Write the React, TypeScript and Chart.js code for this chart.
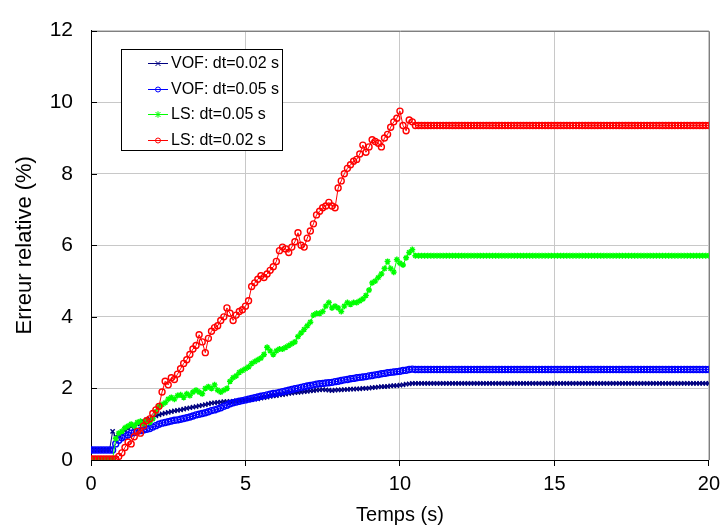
import React, { useEffect, useRef } from "react";
import { Chart, registerables } from "chart.js";

Chart.register(...registerables);

const temps = [
  0, 0.1, 0.2, 0.3, 0.4, 0.5, 0.6, 0.7, 0.8, 0.9,
  1, 1.1, 1.2, 1.3, 1.4, 1.5, 1.6, 1.7, 1.8, 1.9,
  2, 2.1, 2.2, 2.3, 2.4, 2.5, 2.6, 2.7, 2.8, 2.9,
  3, 3.1, 3.2, 3.3, 3.4, 3.5, 3.6, 3.7, 3.8, 3.9,
  4, 4.1, 4.2, 4.3, 4.4, 4.5, 4.6, 4.7, 4.8, 4.9,
  5, 5.1, 5.2, 5.3, 5.4, 5.5, 5.6, 5.7, 5.8, 5.9,
  6, 6.1, 6.2, 6.3, 6.4, 6.5, 6.6, 6.7, 6.8, 6.9,
  7, 7.1, 7.2, 7.3, 7.4, 7.5, 7.6, 7.7, 7.8, 7.9,
  8, 8.1, 8.2, 8.3, 8.4, 8.5, 8.6, 8.7, 8.8, 8.9,
  9, 9.1, 9.2, 9.3, 9.4, 9.5, 9.6, 9.7, 9.8, 9.9,
  10, 10.1, 10.2, 10.3, 10.4, 10.5, 10.6, 10.7, 10.8, 10.9,
  11, 11.1, 11.2, 11.3, 11.4, 11.5, 11.6, 11.7, 11.8, 11.9,
  12, 12.1, 12.2, 12.3, 12.4, 12.5, 12.6, 12.7, 12.8, 12.9,
  13, 13.1, 13.2, 13.3, 13.4, 13.5, 13.6, 13.7, 13.8, 13.9,
  14, 14.1, 14.2, 14.3, 14.4, 14.5, 14.6, 14.7, 14.8, 14.9,
  15, 15.1, 15.2, 15.3, 15.4, 15.5, 15.6, 15.7, 15.8, 15.9,
  16, 16.1, 16.2, 16.3, 16.4, 16.5, 16.6, 16.7, 16.8, 16.9,
  17, 17.1, 17.2, 17.3, 17.4, 17.5, 17.6, 17.7, 17.8, 17.9,
  18, 18.1, 18.2, 18.3, 18.4, 18.5, 18.6, 18.7, 18.8, 18.9,
  19, 19.1, 19.2, 19.3, 19.4, 19.5, 19.6, 19.7, 19.8, 19.9,
  20,
];

const vof002 = [
  0.28, 0.28, 0.28, 0.28, 0.28, 0.28, 0.28, 0.80, 0.65, 0.70,
  0.75, 0.82, 0.88, 0.93, 0.97, 1.00, 1.04, 1.08, 1.12, 1.15,
  1.20, 1.23, 1.26, 1.29, 1.31, 1.33, 1.35, 1.37, 1.39, 1.40,
  1.42, 1.44, 1.46, 1.48, 1.49, 1.51, 1.53, 1.55, 1.57, 1.59,
  1.60, 1.61, 1.62, 1.63, 1.63, 1.64, 1.64, 1.65, 1.66, 1.66,
  1.67, 1.68, 1.69, 1.70, 1.71, 1.73, 1.74, 1.76, 1.78, 1.79,
  1.80, 1.82, 1.83, 1.84, 1.86, 1.87, 1.88, 1.89, 1.90, 1.91,
  1.92, 1.93, 1.94, 1.95, 1.96, 1.97, 1.96, 1.95, 1.94, 1.95,
  1.96, 1.96, 1.97, 1.97, 1.98, 1.98, 1.99, 1.99, 2.00, 2.00,
  2.01, 2.02, 2.03, 2.04, 2.05, 2.05, 2.06, 2.07, 2.08, 2.08,
  2.09, 2.10, 2.12, 2.13, 2.14, 2.14, 2.14, 2.14, 2.14, 2.14,
  2.14, 2.14, 2.14, 2.14, 2.14, 2.14, 2.14, 2.14, 2.14, 2.14,
  2.14, 2.14, 2.14, 2.14, 2.14, 2.14, 2.14, 2.14, 2.14, 2.14,
  2.14, 2.14, 2.14, 2.14, 2.14, 2.14, 2.14, 2.14, 2.14, 2.14,
  2.14, 2.14, 2.14, 2.14, 2.14, 2.14, 2.14, 2.14, 2.14, 2.14,
  2.14, 2.14, 2.14, 2.14, 2.14, 2.14, 2.14, 2.14, 2.14, 2.14,
  2.14, 2.14, 2.14, 2.14, 2.14, 2.14, 2.14, 2.14, 2.14, 2.14,
  2.14, 2.14, 2.14, 2.14, 2.14, 2.14, 2.14, 2.14, 2.14, 2.14,
  2.14, 2.14, 2.14, 2.14, 2.14, 2.14, 2.14, 2.14, 2.14, 2.14,
  2.14, 2.14, 2.14, 2.14, 2.14, 2.14, 2.14, 2.14, 2.14, 2.14,
  2.14,
];

const vof005 = [
  0.28, 0.28, 0.28, 0.28, 0.28, 0.28, 0.28, 0.28, 0.45, 0.55,
  0.62, 0.66, 0.70, 0.75, 0.77, 0.80, 0.82, 0.84, 0.86, 0.88,
  0.92, 0.96, 1.00, 1.03, 1.05, 1.07, 1.09, 1.11, 1.12, 1.14,
  1.16, 1.18, 1.20, 1.23, 1.26, 1.28, 1.30, 1.32, 1.35, 1.38,
  1.40, 1.43, 1.46, 1.50, 1.53, 1.57, 1.60, 1.62, 1.64, 1.66,
  1.68, 1.70, 1.72, 1.74, 1.76, 1.78, 1.80, 1.82, 1.84, 1.86,
  1.87, 1.89, 1.91, 1.93, 1.95, 1.97, 1.99, 2.01, 2.03, 2.05,
  2.07, 2.08, 2.10, 2.12, 2.13, 2.14, 2.15, 2.16, 2.17, 2.19,
  2.20, 2.22, 2.24, 2.25, 2.27, 2.28, 2.30, 2.31, 2.32, 2.33,
  2.35, 2.36, 2.38, 2.39, 2.41, 2.42, 2.44, 2.45, 2.46, 2.47,
  2.48, 2.50, 2.51, 2.53, 2.54, 2.53, 2.53, 2.53, 2.53, 2.53,
  2.53, 2.53, 2.53, 2.53, 2.53, 2.53, 2.53, 2.53, 2.53, 2.53,
  2.53, 2.53, 2.53, 2.53, 2.53, 2.53, 2.53, 2.53, 2.53, 2.53,
  2.53, 2.53, 2.53, 2.53, 2.53, 2.53, 2.53, 2.53, 2.53, 2.53,
  2.53, 2.53, 2.53, 2.53, 2.53, 2.53, 2.53, 2.53, 2.53, 2.53,
  2.53, 2.53, 2.53, 2.53, 2.53, 2.53, 2.53, 2.53, 2.53, 2.53,
  2.53, 2.53, 2.53, 2.53, 2.53, 2.53, 2.53, 2.53, 2.53, 2.53,
  2.53, 2.53, 2.53, 2.53, 2.53, 2.53, 2.53, 2.53, 2.53, 2.53,
  2.53, 2.53, 2.53, 2.53, 2.53, 2.53, 2.53, 2.53, 2.53, 2.53,
  2.53, 2.53, 2.53, 2.53, 2.53, 2.53, 2.53, 2.53, 2.53, 2.53,
  2.53,
];

const ls005 = [
  0.02, 0.02, 0.02, 0.02, 0.02, 0.02, 0.02, 0.02, 0.60, 0.75,
  0.80, 0.90, 0.95, 1.00, 0.95, 1.05, 1.08, 1.00, 1.10, 1.05,
  1.15, 1.35, 1.50, 1.55, 1.60, 1.70, 1.75, 1.70, 1.80, 1.82,
  1.75, 1.85, 1.80, 1.90, 1.95, 1.90, 1.85, 2.00, 2.05, 2.00,
  2.10, 1.95, 1.90, 1.95, 2.00, 2.20, 2.30, 2.35, 2.45, 2.50,
  2.55, 2.60, 2.70, 2.75, 2.80, 2.85, 2.95, 3.15, 3.05, 2.95,
  3.05, 3.10, 3.10, 3.15, 3.20, 3.25, 3.30, 3.45, 3.55, 3.65,
  3.75, 3.85, 4.05, 4.10, 4.10, 4.15, 4.30, 4.40, 4.25, 4.30,
  4.25, 4.15, 4.30, 4.40, 4.35, 4.40, 4.40, 4.45, 4.50, 4.60,
  4.75, 4.95, 5.00, 5.10, 5.20, 5.35, 5.55, 5.35, 5.25, 5.60,
  5.50, 5.45, 5.65, 5.80, 5.88, 5.71, 5.71, 5.71, 5.71, 5.71,
  5.71, 5.71, 5.71, 5.71, 5.71, 5.71, 5.71, 5.71, 5.71, 5.71,
  5.71, 5.71, 5.71, 5.71, 5.71, 5.71, 5.71, 5.71, 5.71, 5.71,
  5.71, 5.71, 5.71, 5.71, 5.71, 5.71, 5.71, 5.71, 5.71, 5.71,
  5.71, 5.71, 5.71, 5.71, 5.71, 5.71, 5.71, 5.71, 5.71, 5.71,
  5.71, 5.71, 5.71, 5.71, 5.71, 5.71, 5.71, 5.71, 5.71, 5.71,
  5.71, 5.71, 5.71, 5.71, 5.71, 5.71, 5.71, 5.71, 5.71, 5.71,
  5.71, 5.71, 5.71, 5.71, 5.71, 5.71, 5.71, 5.71, 5.71, 5.71,
  5.71, 5.71, 5.71, 5.71, 5.71, 5.71, 5.71, 5.71, 5.71, 5.71,
  5.71, 5.71, 5.71, 5.71, 5.71, 5.71, 5.71, 5.71, 5.71, 5.71,
  5.71,
];

const ls002 = [
  0.03, 0.03, 0.03, 0.03, 0.03, 0.03, 0.03, 0.03, 0.03, 0.10,
  0.20, 0.35, 0.50, 0.45, 0.65, 0.80, 0.75, 0.95, 1.10, 1.15,
  1.30, 1.40, 1.50, 1.90, 2.20, 2.10, 2.30, 2.25, 2.40, 2.55,
  2.70, 2.80, 2.95, 3.10, 3.20, 3.50, 3.30, 3.00, 3.40, 3.60,
  3.70, 3.75, 3.90, 4.00, 4.25, 4.10, 3.90, 4.05, 4.15, 4.20,
  4.30, 4.45, 4.85, 4.95, 5.05, 5.15, 5.10, 5.20, 5.30, 5.40,
  5.55, 5.85, 5.95, 5.90, 5.80, 5.95, 6.10, 6.35, 6.00, 5.95,
  6.20, 6.40, 6.60, 6.85, 6.95, 7.05, 7.10, 7.20, 7.10, 7.05,
  7.60, 7.80, 8.00, 8.15, 8.25, 8.35, 8.40, 8.55, 8.80, 8.60,
  8.75, 8.95, 8.90, 8.85, 8.75, 9.00, 9.10, 9.30, 9.45, 9.55,
  9.75, 9.35, 9.20, 9.50, 9.45, 9.35, 9.35, 9.35, 9.35, 9.35,
  9.35, 9.35, 9.35, 9.35, 9.35, 9.35, 9.35, 9.35, 9.35, 9.35,
  9.35, 9.35, 9.35, 9.35, 9.35, 9.35, 9.35, 9.35, 9.35, 9.35,
  9.35, 9.35, 9.35, 9.35, 9.35, 9.35, 9.35, 9.35, 9.35, 9.35,
  9.35, 9.35, 9.35, 9.35, 9.35, 9.35, 9.35, 9.35, 9.35, 9.35,
  9.35, 9.35, 9.35, 9.35, 9.35, 9.35, 9.35, 9.35, 9.35, 9.35,
  9.35, 9.35, 9.35, 9.35, 9.35, 9.35, 9.35, 9.35, 9.35, 9.35,
  9.35, 9.35, 9.35, 9.35, 9.35, 9.35, 9.35, 9.35, 9.35, 9.35,
  9.35, 9.35, 9.35, 9.35, 9.35, 9.35, 9.35, 9.35, 9.35, 9.35,
  9.35, 9.35, 9.35, 9.35, 9.35, 9.35, 9.35, 9.35, 9.35, 9.35,
  9.35,
];

const seriesLabels = ["VOF: dt=0.02 s", "VOF: dt=0.05 s", "LS: dt=0.05 s", "LS: dt=0.02 s"];
const seriesColors = ["#000080", "#0000FF", "#00FF00", "#FF0000"];
const seriesStyles = ["crossRot", "circle", "star", "circle"];
const seriesValues = [vof002, vof005, ls005, ls002];

const xTitle = "Temps (s)";
const yTitle = "Erreur relative (%)";

const FONT = "'Liberation Sans', Arial, sans-serif";

function drawMarker(ctx: CanvasRenderingContext2D, style: string, x: number, y: number, r: number, color: string) {
  ctx.save();
  ctx.strokeStyle = color;
  ctx.lineWidth = 1;
  ctx.beginPath();
  if (style === "circle") {
    ctx.arc(x, y, r, 0, Math.PI * 2);
  } else if (style === "crossRot") {
    ctx.moveTo(x - r, y - r); ctx.lineTo(x + r, y + r);
    ctx.moveTo(x - r, y + r); ctx.lineTo(x + r, y - r);
  } else {
    ctx.moveTo(x - r, y - r); ctx.lineTo(x + r, y + r);
    ctx.moveTo(x - r, y + r); ctx.lineTo(x + r, y - r);
    ctx.moveTo(x, y - r * 1.3); ctx.lineTo(x, y + r * 1.3);
  }
  ctx.stroke();
  ctx.restore();
}

const framePlugin = {
  id: "frameAndLegend",
  afterDraw(chart: any) {
    const { ctx, chartArea } = chart;
    const { left, right, top, bottom } = chartArea;
    ctx.save();
    ctx.strokeStyle = "#808080";
    ctx.lineWidth = 1;
    ctx.beginPath();
    ctx.moveTo(left, Math.round(top) + 0.5);
    ctx.lineTo(Math.round(right) + 0.5, Math.round(top) + 0.5);
    ctx.lineTo(Math.round(right) + 0.5, bottom);
    ctx.stroke();
    const yScale = chart.scales.y;
    ctx.strokeStyle = "#000";
    ctx.beginPath();
    yScale.ticks.forEach((t: any) => {
      const py = Math.round(yScale.getPixelForValue(t.value)) + 0.5;
      ctx.moveTo(left, py);
      ctx.lineTo(left + 6, py);
    });
    ctx.stroke();

    const bx = 121.5, by = 49.5, bw = 161, bh = 101;
    ctx.fillStyle = "#fff";
    ctx.fillRect(bx, by, bw, bh);
    ctx.strokeStyle = "#000";
    ctx.lineWidth = 1;
    ctx.strokeRect(bx, by, bw, bh);
    ctx.font = `16px ${FONT}`;
    ctx.textBaseline = "middle";
    ctx.textAlign = "left";
    seriesLabels.forEach((lab, i) => {
      const y = 63 + i * 25.5;
      ctx.strokeStyle = seriesColors[i];
      ctx.lineWidth = 1;
      ctx.beginPath();
      ctx.moveTo(148, Math.round(y) + 0.5);
      ctx.lineTo(168, Math.round(y) + 0.5);
      ctx.stroke();
      drawMarker(ctx, seriesStyles[i], 158, Math.round(y) + 0.5, 2.5, seriesColors[i]);
      ctx.fillStyle = "#000";
      ctx.fillText(lab, 171, y + 1);
    });
    ctx.restore();
  },
};

export default function App() {
  const ref = useRef<HTMLCanvasElement | null>(null);
  useEffect(() => {
    if (!ref.current) return;
    const datasets = seriesLabels.map((label, i) => ({
      label,
      data: temps.map((t, k) => ({ x: t, y: seriesValues[i][k] })),
      borderColor: seriesColors[i],
      backgroundColor: "transparent",
      borderWidth: 1,
      pointStyle: seriesStyles[i],
      pointRadius: 3,
      pointBorderWidth: 1.4,
      pointBorderColor: seriesColors[i],
      pointBackgroundColor: "rgba(0,0,0,0)",
      tension: 0,
      order: 3 - i,
    }));
    const chart = new Chart(ref.current, {
      type: "line",
      data: { datasets },
      options: {
        animation: false,
        responsive: false,
        devicePixelRatio: 1,
        layout: { padding: { left: 0, top: 17, right: 15, bottom: 0 } },
        plugins: { legend: { display: false }, tooltip: { enabled: false } },
        scales: {
          x: {
            type: "linear",
            min: 0,
            max: 20,
            afterFit: (s: any) => { s.height = 72; },
            ticks: { stepSize: 5, color: "#000", font: { family: FONT, size: 20 }, padding: 6, maxRotation: 0 },
            grid: { color: "#c8c8c8", tickColor: "#000", tickLength: 6, drawTicks: true },
            border: { color: "#000", width: 1 },
            title: { display: true, text: xTitle, color: "#000", font: { family: FONT, size: 20 }, padding: { top: 0, bottom: 5 } },
          },
          y: {
            min: 0,
            max: 12,
            afterFit: (s: any) => { s.width = 91; },
            ticks: { stepSize: 2, color: "#000", font: { family: FONT, size: 21 }, padding: 18 },
            grid: { color: "#c8c8c8", drawTicks: false },
            border: { color: "#000", width: 1 },
            title: { display: true, text: yTitle, color: "#000", font: { family: FONT, size: 22 }, padding: { top: 12, bottom: 0 } },
          },
        },
      },
      plugins: [framePlugin],
    });
    return () => chart.destroy();
  }, []);
  return (
    <div style={{ position: "absolute", left: 0, top: 0, width: 726, height: 532, background: "#fff" }}>
      <canvas ref={ref} width={726} height={532} style={{ width: 726, height: 532 }} />
    </div>
  );
}
